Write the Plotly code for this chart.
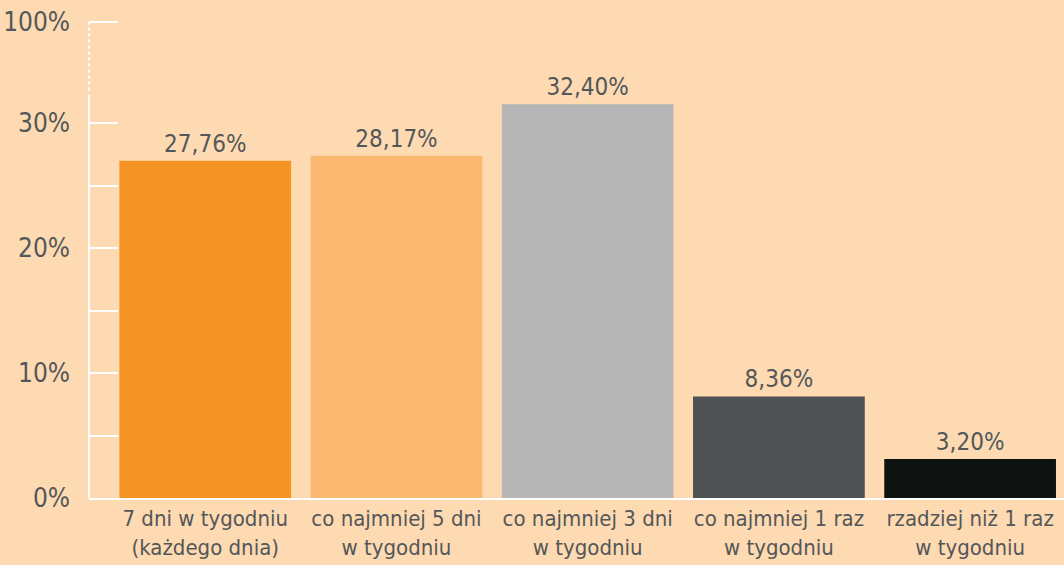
import plotly.graph_objects as go

categories = ["7 dni w tygodniu<br>(każdego dnia)", "co najmniej 5 dni<br>w tygodniu",
              "co najmniej 3 dni<br>w tygodniu", "co najmniej 1 raz<br>w tygodniu",
              "rzadziej niż 1 raz<br>w tygodniu"]
values = [27.76, 28.17, 32.40, 8.36, 3.20]
value_labels = ["27,76%", "28,17%", "32,40%", "8,36%", "3,20%"]
colors = ["#F59424", "#FBB870", "#B6B6B6", "#505153", "#0E1210"]

tick_vals = [0, 10, 20, 30, 38.08]
tick_text = ["0%", "10%", "20%", "30%", "100%"]
minor_vals = [5, 15, 25]

BG = "#FDDAB1"
TXT = "#54575A"
FONT = "DejaVu Sans Condensed, Liberation Sans Narrow, Arial Narrow, sans-serif"

fig = go.Figure()
fig.add_trace(go.Bar(
    x=list(range(len(categories))), y=values, marker=dict(color=colors, line=dict(width=0)),
    width=0.898, text=value_labels, textposition="outside", cliponaxis=False,
    textfont=dict(color=TXT, size=24, family=FONT), hoverinfo="skip"))
fig.add_trace(go.Scatter(x=[0], y=[0], yaxis="y2", mode="markers",
                         marker=dict(opacity=0), showlegend=False, hoverinfo="skip"))

fig.update_layout(
    width=1064, height=565, paper_bgcolor=BG, plot_bgcolor=BG,
    margin=dict(l=89, r=0, t=15, b=67), showlegend=False,
    font=dict(family=FONT, color=TXT),
    xaxis=dict(tickmode="array", tickvals=list(range(len(categories))), ticktext=categories,
               range=[-0.608, 4.491], showgrid=False, zeroline=False, showline=True,
               linecolor="white", linewidth=2, ticks="", tickfont=dict(size=22, color=TXT)),
    yaxis=dict(range=[0, 39.75], visible=False, showgrid=False, zeroline=False),
    yaxis2=dict(overlaying="y", side="left", range=[0, 38.64], tickmode="array",
                tickvals=tick_vals, ticktext=tick_text, ticks="inside", ticklen=29,
                tickwidth=2, tickcolor="white", showgrid=False, zeroline=False, showline=False,
                tickfont=dict(size=26, color=TXT), ticklabelstandoff=18,
                minor=dict(tickmode="array", tickvals=minor_vals, ticks="inside", ticklen=29,
                           tickwidth=2, tickcolor="white", showgrid=False)),
    shapes=[
        dict(type="line", xref="paper", yref="y2", x0=0, x1=0, y0=0, y1=32.24,
             line=dict(color="white", width=2)),
        dict(type="line", xref="paper", yref="y2", x0=0, x1=0, y0=32.6, y1=38.08,
             line=dict(color="white", width=2, dash="dot")),
    ],
)
fig.write_html("out.html", config={"displayModeBar": False},
               post_script="document.body.style.margin='0';document.body.style.background='" + BG + "';")
